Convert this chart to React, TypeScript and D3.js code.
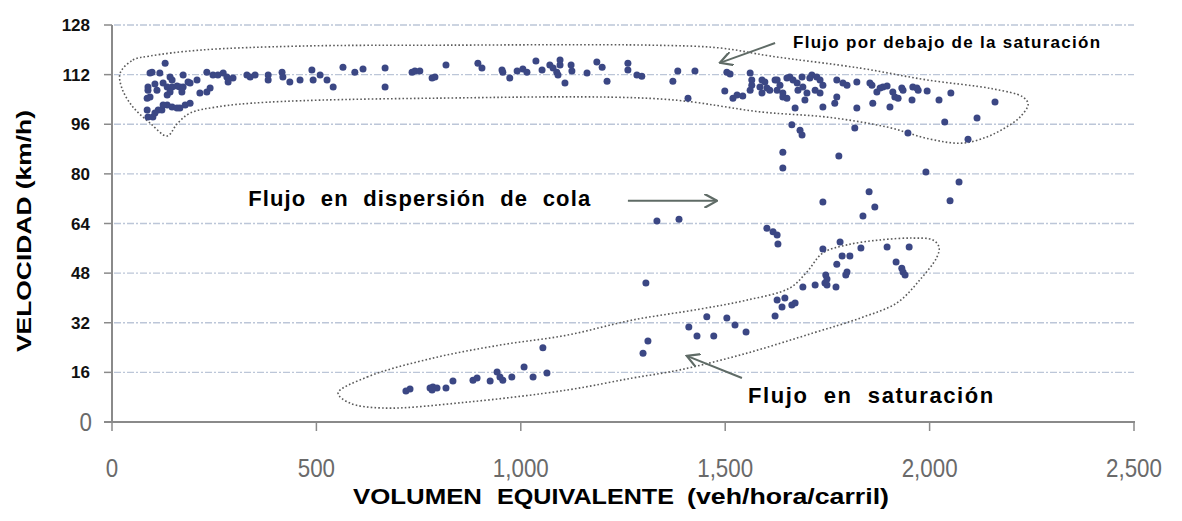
import React, { Component } from "react";
import * as d3 from "d3";

// volumen (veh/hora/carril), velocidad (km/h)
const flujoLibre: [number, number][] = [
  [88, 108.0], [93, 112.5], [117, 112.5], [130, 115.7], [93, 104.8], [86, 100.6], [100, 98.3], [113, 100.6],
  [135, 102.2], [147, 101.6], [166, 101.2], [179, 102.2], [191, 102.8], [142, 111.2], [147, 110.3], [147, 108.0],
  [166, 108.0], [174, 111.9], [191, 109.3], [208, 110.3], [215, 106.1], [232, 106.4], [240, 107.7],
  [98, 112.8], [105, 109.0], [125, 109.3], [135, 108.0], [159, 108.3], [186, 109.6], [88, 107.0], [110, 107.0],
  [142, 106.4], [171, 106.4], [135, 105.4], [86, 104.4], [88, 98.3], [105, 99.6], [122, 100.6], [125, 102.2],
  [159, 101.2], [174, 108.0],
  [232, 112.8], [247, 111.9], [259, 111.9], [272, 112.5], [281, 111.2], [296, 110.9], [284, 109.6],
  [330, 111.9], [338, 111.2], [350, 111.9], [382, 111.9], [382, 110.3], [416, 112.8], [418, 111.2], [435, 109.6],
  [460, 110.3], [489, 113.5], [492, 110.3], [509, 111.9], [526, 110.3], [541, 108.0], [565, 114.4], [594, 112.8],
  [614, 113.8], [668, 114.1], [668, 108.0], [734, 112.8], [741, 113.2], [753, 113.2], [783, 110.9], [790, 111.2],
  [817, 115.1], [895, 115.7], [905, 114.1], [954, 113.5], [956, 112.8], [973, 110.9], [991, 113.2], [1005, 113.8],
  [1015, 112.8], [1037, 116.4], [1052, 113.5], [1071, 115.1], [1079, 114.1], [1088, 112.8], [1096, 116.7],
  [1096, 115.1], [1091, 111.9], [1108, 109.3], [1123, 115.1], [1125, 113.2], [1162, 112.5], [1186, 116.1],
  [1199, 114.4], [1211, 109.9], [1262, 115.7], [1262, 113.5], [1284, 111.9], [1296, 111.5], [1372, 109.9],
  [1384, 113.2], [1409, 104.4], [1426, 113.2],
  [1504, 112.8], [1512, 112.2], [1499, 106.7], [1519, 104.4], [1529, 105.4], [1543, 105.1], [1561, 112.5],
  [1565, 110.3], [1565, 108.6], [1561, 107.0], [1590, 110.3], [1585, 108.0], [1590, 106.1], [1602, 107.7],
  [1627, 110.3], [1634, 108.6], [1641, 106.1], [1651, 104.4], [1658, 111.2], [1666, 110.3], [1676, 109.3],
  [1678, 107.0], [1690, 108.0], [1700, 106.1], [1671, 101.2], [1695, 103.8], [1712, 111.9], [1724, 111.2],
  [1732, 110.3], [1739, 108.6], [1720, 107.0], [1732, 106.1], [1739, 101.6], [1773, 110.3], [1788, 109.3],
  [1798, 108.6], [1773, 104.8], [1768, 102.8], [1822, 109.6], [1822, 101.2], [1859, 108.6], [1861, 102.8],
  [1597, 109.6], [1622, 110.3], [1651, 110.9], [1688, 111.2], [1707, 110.9], [1609, 107.0], [1627, 107.0],
  [1641, 104.8], [1854, 109.3], [1871, 106.4], [1879, 107.7], [1886, 108.0], [1896, 108.3], [1910, 106.4],
  [1915, 104.8], [1923, 104.4], [1932, 107.7], [1935, 107.0], [1959, 108.0], [1969, 107.7], [1972, 107.0],
  [1994, 106.7], [1903, 101.6], [1957, 103.8], [2023, 103.8], [2052, 106.1], [2160, 103.2],
];

const flujoDispersion: [number, number][] = [
  [1663, 95.8], [1683, 94.1], [1688, 92.5], [1817, 94.8], [1641, 87.0], [1778, 85.8], [1641, 81.9], [1991, 80.6],
  [2072, 77.4], [1852, 74.2], [1739, 70.9], [2050, 71.3], [1866, 69.3], [1837, 66.4], [1333, 64.8], [1387, 65.4],
  [1602, 62.5], [1617, 61.3], [1627, 60.3], [1629, 57.4], [1306, 44.8], [1947, 93.2], [2037, 96.7], [2116, 98.0],
  [2094, 91.2],
];

const flujoSaturacion: [number, number][] = [
  [1781, 58.0], [1739, 55.8], [1832, 56.1], [1896, 56.4], [1950, 56.4], [1786, 53.5], [1805, 53.5], [1773, 50.9],
  [1918, 51.6], [1932, 49.6], [1935, 48.4], [1940, 47.4], [1798, 48.4], [1795, 47.4], [1746, 47.4], [1749, 46.1],
  [1744, 44.8], [1749, 44.2], [1720, 44.2], [1690, 43.5], [1771, 43.5], [1627, 39.3], [1646, 40.0], [1639, 37.1],
  [1663, 37.7], [1671, 38.4], [1622, 34.2], [1455, 33.9], [1504, 33.5], [1524, 31.3], [1551, 29.0], [1411, 30.6],
  [1431, 27.7], [1472, 27.7], [1311, 26.1], [1299, 22.2], [1054, 23.9], [1008, 17.7], [1030, 14.5], [1064, 15.8],
  [942, 16.1], [949, 14.5], [956, 13.5], [978, 14.5], [925, 13.2], [883, 13.5], [893, 14.2], [834, 13.2],
  [817, 11.0], [778, 11.0], [785, 11.3], [795, 11.0], [783, 10.3], [719, 10.0], [729, 10.6],
];

// contornos punteados dibujados a mano (en unidades de datos)
const contornoLibre: [number, number][] = [
  [20, 112.5], [51, 116.7], [93, 118.0], [215, 119.9], [460, 121.2], [827, 121.5], [1316, 121.5], [1487, 120.6],
  [1610, 118.0], [1830, 114.1], [1993, 110.3], [2155, 107.4], [2228, 104.8], [2241, 102.5], [2221, 98.3],
  [2184, 94.8], [2140, 91.9], [2079, 89.9], [2001, 91.2], [1896, 95.1], [1749, 98.3], [1592, 99.9], [1348, 104.1],
  [785, 104.4], [379, 103.1], [257, 101.6], [191, 99.6], [159, 96.1], [135, 92.2], [93, 96.4], [51, 101.6],
  [24, 107.7],
];

const contornoSaturacion: [number, number][] = [
  [553, 9.3], [624, 14.5], [785, 20.6], [949, 24.8], [1113, 28.0], [1274, 32.9], [1438, 36.4], [1553, 39.3],
  [1658, 43.2], [1700, 48.4], [1739, 54.5], [1798, 57.1], [1879, 58.7], [1959, 59.3], [2008, 58.7], [2023, 56.4],
  [2018, 53.2], [1976, 45.8], [1920, 38.4], [1830, 33.5], [1715, 28.7], [1553, 22.2], [1389, 16.8], [1274, 14.2],
  [1113, 10.3], [868, 6.4], [663, 4.5], [582, 6.1],
];

const xTicks = [0, 500, 1000, 1500, 2000, 2500];
const yTicks = [0, 16, 32, 48, 64, 80, 96, 112, 128];

const etiquetas = [
  { text: "Flujo por debajo de la saturación", x: 1666, y: 120.6, size: 17, len: 307 },
  { text: "Flujo  en  dispersión  de  cola", x: 333, y: 69.6, size: 22, len: 342 },
  { text: "Flujo  en  saturación", x: 1556, y: 6.1, size: 22, len: 245 },
];

const tituloX = [
  { text: "VOLUMEN", x: 353, len: 129 },
  { text: "EQUIVALENTE", x: 497, len: 177 },
  { text: "(veh/hora/carril)", x: 687, len: 202 },
];

const flechas: [number, number, number, number][] = [
  [1622, 122.2, 1487, 115.8],
  [1262, 71.3, 1480, 71.3],
  [1541, 14.2, 1406, 21.3],
];

const W = 1182;
const H = 521;

class App extends Component {
  el: HTMLDivElement | null = null;

  componentDidMount() {
    d3.select(this.el).selectAll("*").remove();
    const svg = d3.select(this.el).append("svg")
        .attr("width", W)
        .attr("height", H)
        .style("display", "block")
        .style("background", "#fff");
    this.drawChart(svg);
  }

  drawChart(svg: any) {
    const x = d3.scaleLinear().domain([0, 2500]).range([112, 1134]);
    const y = d3.scaleLinear().domain([0, 128]).range([422, 25]);
    const sans = "'Liberation Sans', Arial, sans-serif";

    // rejilla
    svg.append("g")
        .selectAll("line")
        .data(yTicks.filter((d) => d > 0))
        .join("line")
        .attr("x1", x(0) + 2)
        .attr("x2", x(2500))
        .attr("y1", (d: number) => y(d))
        .attr("y2", (d: number) => y(d))
        .attr("stroke", "#bcc6d8")
        .attr("stroke-width", 1.3)
        .attr("stroke-dasharray", "7,2,2,2");

    // ejes
    const axisColor = "#8a8a8a";
    svg.append("line")
        .attr("x1", x(0)).attr("x2", x(0))
        .attr("y1", y(128)).attr("y2", y(0) + 1)
        .attr("stroke", axisColor).attr("stroke-width", 2);
    svg.append("line")
        .attr("x1", x(0) - 8).attr("x2", x(2500) + 1)
        .attr("y1", y(0)).attr("y2", y(0))
        .attr("stroke", axisColor).attr("stroke-width", 2);

    svg.append("g")
        .selectAll("line")
        .data(yTicks)
        .join("line")
        .attr("x1", x(0) - 8).attr("x2", x(0))
        .attr("y1", (d: number) => y(d)).attr("y2", (d: number) => y(d))
        .attr("stroke", axisColor).attr("stroke-width", 1.5);

    svg.append("g")
        .selectAll("line")
        .data(xTicks)
        .join("line")
        .attr("x1", (d: number) => x(d)).attr("x2", (d: number) => x(d))
        .attr("y1", y(0)).attr("y2", y(0) + 9)
        .attr("stroke", axisColor).attr("stroke-width", 1.5);

    const fmt = d3.format(",");
    svg.append("g")
        .selectAll("text")
        .data(xTicks)
        .join("text")
        .attr("transform", (d: number) => `translate(${x(d)},477) scale(0.86,1)`)
        .attr("text-anchor", "middle")
        .attr("font-family", sans)
        .attr("font-size", 26)
        .attr("fill", "#6a6a6a")
        .text((d: number) => fmt(d));

    svg.append("g")
        .selectAll("text")
        .data(yTicks.filter((d) => d > 0))
        .join("text")
        .attr("x", 90)
        .attr("y", (d: number) => y(d))
        .attr("dy", "0.36em")
        .attr("text-anchor", "end")
        .attr("font-family", sans)
        .attr("font-weight", "bold")
        .attr("font-size", 17)
        .attr("fill", "#111")
        .text((d: number) => d);

    svg.append("text")
        .attr("transform", `translate(92,${y(0) + 9}) scale(0.86,1)`)
        .attr("text-anchor", "end")
        .attr("font-family", sans)
        .attr("font-size", 26)
        .attr("fill", "#6a6a6a")
        .text("0");

    // titulos
    svg.append("text")
        .attr("transform", "translate(31,231) rotate(-90)")
        .attr("text-anchor", "middle")
        .attr("font-family", sans)
        .attr("font-weight", "bold")
        .attr("font-size", 21)
        .attr("fill", "#000")
        .attr("textLength", 242)
        .attr("lengthAdjust", "spacingAndGlyphs")
        .text("VELOCIDAD (km/h)");

    svg.append("g")
        .selectAll("text")
        .data(tituloX)
        .join("text")
        .attr("x", (d: any) => d.x)
        .attr("y", 504)
        .attr("font-family", sans)
        .attr("font-weight", "bold")
        .attr("font-size", 22)
        .attr("fill", "#000")
        .attr("textLength", (d: any) => d.len)
        .attr("lengthAdjust", "spacingAndGlyphs")
        .text((d: any) => d.text);

    // contornos
    const contorno = d3.line<[number, number]>()
        .x((d) => x(d[0]))
        .y((d) => y(d[1]))
        .curve(d3.curveCatmullRomClosed.alpha(0.5));

    svg.append("g")
        .selectAll("path")
        .data([contornoLibre, contornoSaturacion])
        .join("path")
        .attr("d", (d: [number, number][]) => contorno(d))
        .attr("fill", "none")
        .attr("stroke", "#5a5a5a")
        .attr("stroke-width", 1.6)
        .attr("stroke-dasharray", "1.6,2.2");

    // puntos
    const puntos = [...flujoLibre, ...flujoDispersion, ...flujoSaturacion];
    svg.append("g")
        .selectAll("circle")
        .data(puntos)
        .join("circle")
        .attr("cx", (d: [number, number]) => x(d[0]))
        .attr("cy", (d: [number, number]) => y(d[1]))
        .attr("r", 3.5)
        .attr("fill", "#3b4784");

    // flechas
    svg.append("defs").append("marker")
        .attr("id", "punta")
        .attr("viewBox", "0 0 10 10")
        .attr("refX", 9)
        .attr("refY", 5)
        .attr("markerWidth", 7)
        .attr("markerHeight", 7)
        .attr("orient", "auto")
        .append("path")
        .attr("d", "M0,0 L9,5 L0,10")
        .attr("fill", "none")
        .attr("stroke", "#5f6b66")
        .attr("stroke-width", 1.6);

    svg.append("g")
        .selectAll("line")
        .data(flechas)
        .join("line")
        .attr("x1", (d: number[]) => x(d[0]))
        .attr("y1", (d: number[]) => y(d[1]))
        .attr("x2", (d: number[]) => x(d[2]))
        .attr("y2", (d: number[]) => y(d[3]))
        .attr("stroke", "#5f6b66")
        .attr("stroke-width", 2)
        .attr("marker-end", "url(#punta)");

    svg.append("g")
        .selectAll("text")
        .data(etiquetas)
        .join("text")
        .attr("x", (d: any) => x(d.x))
        .attr("y", (d: any) => y(d.y))
        .attr("font-family", sans)
        .attr("font-weight", "bold")
        .attr("font-size", (d: any) => d.size)
        .attr("fill", "#000")
        .attr("textLength", (d: any) => d.len)
        .attr("lengthAdjust", "spacing")
        .style("white-space", "pre")
        .text((d: any) => d.text);
  }

  render() {
    return (
      <div
        style={{ position: "absolute", left: 0, top: 0, width: W, height: H, background: "#fff" }}
        ref={(el) => { this.el = el; }}
      />
    );
  }
}

export default App;
